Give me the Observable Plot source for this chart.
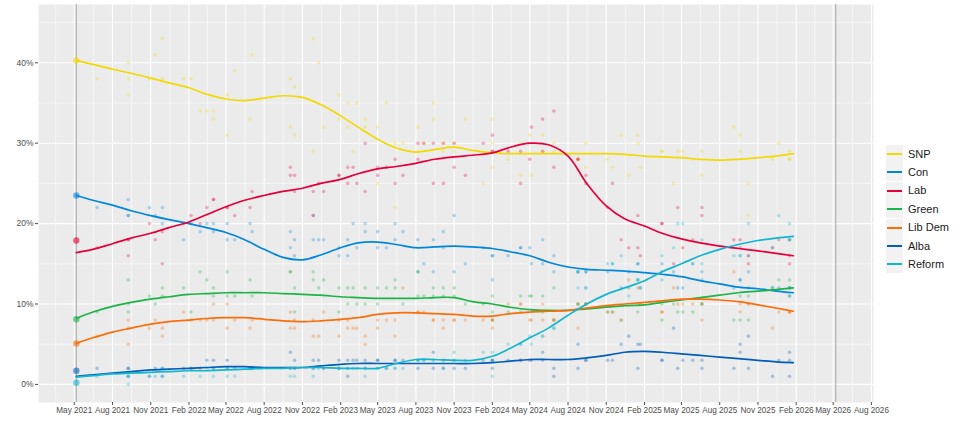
<!DOCTYPE html>
<html>
<head>
<meta charset="utf-8">
<script src="https://cdn.jsdelivr.net/npm/d3@7"></script>
<script src="https://cdn.jsdelivr.net/npm/@observablehq/plot@0.6"></script>
<style>
  html, body { margin: 0; padding: 0; background: #fff; }
  #wrap { position: relative; width: 960px; height: 427px; font-family: "Liberation Sans", Arial, sans-serif; }
  #legend { position: absolute; left: 0; top: 0; }
  .key { position: absolute; width: 17px; height: 18px; background: #F2F2F2; }
  .key span { position: absolute; left: 1px; right: 1px; top: 8px; height: 2px; }
  .lab { position: absolute; font-size: 11px; color: #1a1a1a; line-height: 12px; white-space: nowrap; }
</style>
</head>
<body>
<div id="wrap"><div id="legend"></div></div>
<script>
// ---------- Data ----------
const parties = ["SNP", "Con", "Lab", "Green", "Lib Dem", "Alba", "Reform"];
const partyColors = ["#F2D900", "#0087DC", "#E4003B", "#1CB347", "#FA6E0A", "#005EB8", "#12B6CF"];

const electionDates = ["2021-05-06", "2026-05-07"];
const electionResult = [40.3, 23.5, 17.9, 8.1, 5.1, 1.7, 0.2];

const xTickLabels = ["2021-05-01","2021-08-01","2021-11-01","2022-02-01","2022-05-01","2022-08-01","2022-11-01",
  "2023-02-01","2023-05-01","2023-08-01","2023-11-01","2024-02-01","2024-05-01","2024-08-01","2024-11-01",
  "2025-02-01","2025-05-01","2025-08-01","2025-11-01","2026-02-01","2026-05-01","2026-08-01"];
const yTickValues = [0, 10, 20, 30, 40];

const trendDates = ["2021-05-06","2021-06-15","2021-08-01","2021-09-15","2021-11-01","2021-12-15","2022-02-01","2022-03-15",
  "2022-05-01","2022-06-15","2022-08-01","2022-09-15","2022-11-01","2022-12-15","2023-02-01","2023-03-15","2023-05-01",
  "2023-06-15","2023-08-01","2023-09-15","2023-11-01","2023-12-15","2024-02-01","2024-03-15","2024-05-01","2024-06-15",
  "2024-08-01","2024-09-15","2024-11-01","2024-12-15","2025-02-01","2025-03-15","2025-05-01","2025-06-15","2025-08-01",
  "2025-09-15","2025-11-01","2025-12-15","2026-01-25"];
const trendSNP = [40.3,39.8,39.2,38.7,38.1,37.5,36.9,36.1,35.5,35.3,35.6,35.9,35.7,34.8,33.4,32.0,30.5,29.4,28.9,29.2,29.5,29.1,28.8,28.7,28.7,28.7,28.7,28.7,28.7,28.6,28.4,28.3,28.2,28.0,27.9,28.0,28.2,28.4,28.7];
const trendCon = [23.5,22.9,22.3,21.6,21.0,20.5,20.0,19.5,18.9,18.0,16.8,15.8,15.5,16.1,17.0,17.6,17.7,17.4,17.0,17.1,17.2,17.1,16.9,16.5,16.0,15.2,14.6,14.3,14.2,14.1,13.9,13.7,13.4,12.9,12.5,12.1,11.9,11.6,11.4];
const trendLab = [16.4,16.8,17.5,18.2,18.8,19.5,20.2,21.1,22.1,22.9,23.5,24.0,24.4,25.0,25.5,26.2,26.8,27.1,27.5,28.0,28.3,28.5,28.8,29.5,30.0,29.8,28.4,25.0,22.2,20.6,19.7,18.8,18.1,17.6,17.2,16.9,16.6,16.3,16.0];
const trendGreen = [8.2,9.0,9.7,10.2,10.6,10.9,11.2,11.3,11.4,11.4,11.4,11.3,11.2,11.1,10.9,10.8,10.7,10.7,10.7,10.8,10.8,10.3,10.0,9.6,9.3,9.2,9.2,9.4,9.6,9.8,9.9,10.2,10.5,10.8,11.1,11.4,11.6,11.8,12.0];
const trendLD = [5.1,5.8,6.5,7.0,7.5,7.8,8.0,8.2,8.3,8.3,8.1,7.9,7.8,7.9,8.1,8.3,8.7,8.9,8.9,8.8,8.7,8.5,8.5,8.8,9.0,9.1,9.2,9.5,9.8,10.0,10.2,10.4,10.6,10.6,10.5,10.3,9.9,9.5,9.1];
const trendAlba = [1.0,1.2,1.4,1.6,1.8,1.9,2.0,2.1,2.2,2.2,2.1,2.1,2.1,2.3,2.5,2.6,2.6,2.6,2.6,2.6,2.6,2.6,2.7,2.9,3.1,3.1,3.1,3.3,3.6,4.0,4.1,4.0,3.8,3.6,3.4,3.2,3.0,2.8,2.7];
const trendReform = [0.9,1.1,1.3,1.4,1.5,1.6,1.7,1.7,1.8,1.9,2.0,2.0,2.1,2.1,2.0,2.0,2.0,2.6,3.1,3.1,3.0,3.0,3.5,4.5,5.8,7.0,8.6,10.0,11.2,12.0,12.9,14.0,15.0,16.0,16.8,17.4,17.9,18.2,18.4];

const pollDates = ["2021-06-25","2021-09-08","2021-09-08","2021-09-08","2021-10-29","2021-11-12","2021-11-29","2021-11-29","2022-01-19","2022-02-06",
  "2022-02-28","2022-03-16","2022-04-01","2022-04-01","2022-05-04","2022-05-04","2022-05-22","2022-06-28","2022-07-03","2022-10-03",
  "2022-10-03","2022-10-13","2022-10-13","2022-11-27","2022-11-27","2022-12-10","2022-12-22","2023-01-28","2023-01-28","2023-02-18",
  "2023-02-18","2023-03-03","2023-03-12","2023-04-01","2023-04-01","2023-05-01","2023-05-01","2023-05-22","2023-06-12","2023-06-12",
  "2023-07-01","2023-08-06","2023-08-06","2023-08-20","2023-09-12","2023-09-12","2023-10-06","2023-10-06","2023-11-01","2023-11-01",
  "2023-11-28","2024-01-10","2024-02-01","2024-02-01","2024-02-01","2024-03-10","2024-04-09","2024-04-09","2024-05-01","2024-05-05",
  "2024-06-01","2024-06-01","2024-06-28","2024-06-28","2024-08-25","2024-08-25","2024-09-13","2024-09-13","2024-11-04","2024-11-16",
  "2024-12-07","2024-12-25","2025-01-16","2025-01-22","2025-01-16","2025-03-15","2025-03-15","2025-04-12","2025-04-22","2025-05-04",
  "2025-05-28","2025-06-19","2025-06-19","2025-09-04","2025-09-19","2025-09-19","2025-10-09","2025-10-09","2025-12-06","2025-12-21",
  "2026-01-16","2026-01-16","2026-01-16"];
const pollSNP = [38,40,38,36,38,41,43,38,38,38, 34,34,34,33,36,31,39,33,41,38, 32,37,31,43,29,40,32,36,33,35,
  32,29,35,33,32,32,25,35,30,22, 30,32,29,30,35,33,29,30,30,29, 33,25,33,30,27,28,26,30,31,26,
  31,29,30,29,28,28,30,27,28,27, 31,26,31,27,30,29,29,25,29,29, 28,29,26,32,31,29,25,21,28,30, 29,28,28];
const pollCon = [22,23,21,21,22,21,20,22,18,20, 19,20,19,20,18,20,18,20,19,19, 17,18,16,21,18,18,18,16,17,18,
  16,20,17,20,19,19,17,17,18,20, 19,18,14,15,18,14,19,17,21,14, 15,17,16,13,16,16,17,17,17,15,
  18,15,14,16,14,14,14,14,14,15, 12,14,15,12,15,15,14,14,12,12, 15,13,14,12,13,13,12,14,12,12, 11,12,12];
const pollLab = [17,18,16,18,20,18,15,19,20,21, 20,22,23,23,22,22,21,22,24,27, 26,26,24,24,21,25,24,26,26,27,
  25,27,25,30,24,27,26,27,28,25, 26,30,28,30,30,25,30,25,30,27, 26,30,31,29,29,29,29,25,28,32,
  33,29,34,27,28,28,26,25,22,25, 18,17,21,16,17,20,20,15,22,17, 18,22,21,18,18,17,16,15,17,18, 16,15,18];
const pollGreen = [9,13,9,10,11,10,12,11,12,9, 14,13,11,12,14,11,11,13,11,14, 14,9,12,14,13,12,13,9,12,12,
  10,12,10,10,12,10,12,12,13,12, 10,14,11,11,12,11,12,11,12,11, 10,10,11,9,8,9,9,11,11,11,
  9,11,8,12,10,10,10,10,9,9, 8,12,9,10,13,8,10,10,9,9, 9,10,10,8,11,8,11,8,12,13, 13,11,12];
const pollLD = [6,7,8,5,7,8,6,7,9,8, 8,8,10,8,10,7,8,7,8,9, 7,7,8,6,8,6,9,8,6,7,
  8,7,7,6,5,7,8,8,8,6, 12,9,9,9,8,8,8,7,8,8, 8,8,7,8,8,10,10,10,8,8,
  10,8,8,8,10,7,10,10,9,9, 8,13,12,10,10,9,9,12,10,10, 10,8,10,14,9,10,10,10,7,9, 9,9,9];
const pollAlba = [2,2,1,2,1,2,1,2,2,2, 2,3,3,2,3,2,2,2,2,4, 2,2,3,3,2,3,2,3,2,1,
  3,3,3,3,2,3,3,2,3,3, 3,2,3,3,4,2,3,2,3,2, 2,3,3,2,3,3,3,3,3,3,
  3,4,2,1,2,5,3,3,3,3, 5,6,2,5,5,3,3,7,2,3, 3,3,2,2,5,4,6,2,1,3, 4,1,3];
const pollReform = [1,0,1,1,1,1,1,2,1,2, 1,2,2,1,2,1,1,2,2,1, 2,1,2,1,2,2,2,2,2,2,
  2,2,2,1,2,2,2,2,2,2, 2,3,3,3,3,3,3,2,4,3, 3,4,1,3,4,5,5,5,6,5,
  6,6,7,7,12,14,12,12,15,15, 16,11,13,12,13,16,13,17,20,20, 15,15,18,16,16,16,20,16,17,21, 20,18,18];

// ---------- Tables ----------
const trendSeries = [trendSNP, trendCon, trendLab, trendGreen, trendLD, trendAlba, trendReform];
const pollSeries = [pollSNP, pollCon, pollLab, pollGreen, pollLD, pollAlba, pollReform];
const trendRows = [], pollRows = [];
parties.forEach((p, i) => {
  trendDates.forEach((d, j) => trendRows.push({party: p, date: new Date(d), value: trendSeries[i][j]}));
  pollDates.forEach((d, j) => { const v = pollSeries[i][j]; if (v != null) pollRows.push({party: p, date: new Date(d), value: v}); });
});
const resultRows = parties.map((p, i) => ({party: p, date: new Date(electionDates[0]), value: electionResult[i]}));

const xTicks = xTickLabels.map(d => new Date(d));
const xAll = [d3.utcMonth.offset(xTicks[0], -3), ...xTicks];
const xMinor = d3.pairs(xAll).map(([a, b]) => new Date((+a + +b) / 2));
const yMinor = [5, 15, 25, 35, 45];

const colorScale = {domain: parties, range: partyColors};

const chart = Plot.plot({
  width: 960, height: 427,
  marginLeft: 38, marginRight: 87, marginTop: 4, marginBottom: 25,
  style: {fontFamily: "Liberation Sans, Arial, sans-serif", fontSize: "8.5px", background: "#fff", overflow: "visible"},
  x: {type: "utc", domain: [new Date("2021-02-04"), new Date("2026-08-06")]},
  y: {domain: [-2.25, 47.25]},
  color: colorScale,
  marks: [
    Plot.frame({fill: "#EBEBEB", stroke: null}),
    Plot.ruleY(yMinor, {stroke: "#fff", strokeWidth: 0.55}),
    Plot.ruleX(xMinor, {stroke: "#fff", strokeWidth: 0.55}),
    Plot.ruleY(yTickValues, {stroke: "#fff", strokeWidth: 1.1}),
    Plot.ruleX(xTicks, {stroke: "#fff", strokeWidth: 1.1}),
    Plot.ruleX(electionDates.map(d => new Date(d)), {stroke: "#b5b5b5", strokeWidth: 1.3}),
    Plot.dot(pollRows, {x: "date", y: "value", fill: "party", r: 1.8, fillOpacity: 0.3, stroke: null}),
    Plot.dot(resultRows, {x: "date", y: "value", fill: "party", r: 3.2, fillOpacity: 0.6, stroke: null}),
    Plot.line(trendRows, {x: "date", y: "value", z: "party", stroke: "party", strokeWidth: 1.7, curve: "catmull-rom"}),
    Plot.axisY(yTickValues, {tickFormat: d => d + "%", tickSize: 3, tickPadding: 2, color: "#4d4d4d", label: null, fontSize: 8.5}),
    Plot.axisX(xTicks, {tickFormat: d3.utcFormat("%b %Y"), tickSize: 3, tickPadding: 2, color: "#4d4d4d", label: null, fontSize: 8.2})
  ]
});
document.getElementById("wrap").insertBefore(chart, document.getElementById("legend"));

// ---------- Legend ----------
const leg = document.getElementById("legend");
parties.forEach((p, i) => {
  const cy = 154 + i * 18.4;
  const k = document.createElement("div");
  k.className = "key";
  k.style.left = "886px"; k.style.top = (cy - 9) + "px";
  const s = document.createElement("span");
  s.style.background = partyColors[i];
  k.appendChild(s);
  leg.appendChild(k);
  const t = document.createElement("div");
  t.className = "lab";
  t.style.left = "908px"; t.style.top = (cy - 6.5) + "px";
  t.textContent = p;
  leg.appendChild(t);
});
</script>
</body>
</html>
